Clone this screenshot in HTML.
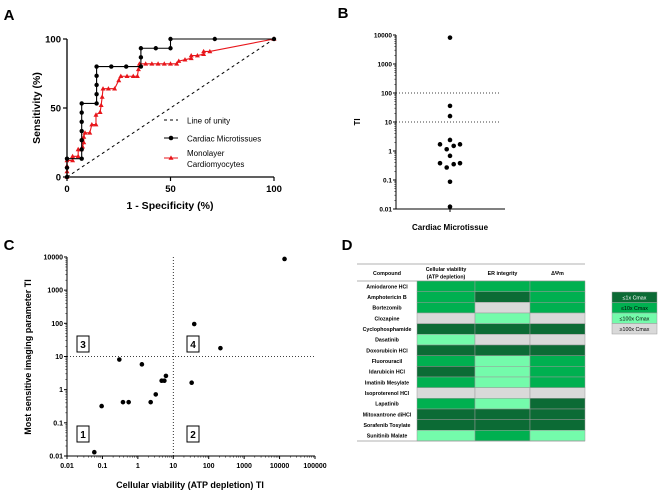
<!DOCTYPE html>
<html><head><meta charset="utf-8"><style>
body{margin:0;background:#fff;width:660px;height:496px;overflow:hidden}
svg{display:block;font-family:"Liberation Sans",Arial,sans-serif}
</style></head><body>
<svg id="fig" width="660" height="496" viewBox="0 0 660 496">
<g id="pA"></g>
<g id="pB"></g>
<g id="pC"></g>
<g id="pD"></g>
</svg>
<script>
// ---- Panel A data ----
const cardFpr=[0,0,0,7.1,7.1,7.1,7.1,7.1,7.1,7.1,14.3,14.3,14.3,14.3,14.3,21.4,28.6,35.7,35.7,35.7,42.9,50,50,71.4,100];
const cardTpr=[0,6.7,13.3,13.3,20,26.7,33.3,40,46.7,53.3,53.3,60,66.7,73.3,80,80,80,80,86.7,93.3,93.3,93.3,100,100,100];
const monoFpr=[0,0,0,0,2.7,2.7,5.4,5.4,6.8,7.5,8.1,8.1,8.7,11,12,14,14,16,16.5,17,17.4,20,23,25,26,29,32,34,34.5,35,38,41,44,47,50,53,54,57,60,60,63,66,66,69,100];
const monoTpr=[0,4,8,12,12,15,15,20,20,22,25,29,32,32,38,38,45,47,52,58,64,64,64,70,73,73,73,73,78,82,82,82,82,82,82,82,84,85,86,88,88,89,91,91,100];
const aTicks=[0,50,100];
// ---- Panel B data ----
const bValues=[8100,36,16,2.4,1.7,1.7,1.5,1.15,0.68,0.38,0.38,0.35,0.27,0.087,0.012];
const bJitter=[0,0,0,0,-10,10,3.7,-3.3,0,-10,10,3.7,-3.3,0,0];
const logTicks=[0.01,0.1,1,10,100,1000,10000];
const logTickLabels=["0.01","0.1","1","10","100","1000","10000"];
// ---- Panel C data ----
const cX=[13800,39,214,0.3,1.3,6.2,4.7,5.6,33,3.2,2.3,0.38,0.55,0.095,0.059];
const cY=[8700,95,17.8,8.1,5.8,2.6,1.86,1.86,1.62,0.72,0.42,0.42,0.42,0.32,0.013];
const cXTicks=[0.01,0.1,1,10,100,1000,10000,100000];
const cXTickLabels=["0.01","0.1","1","10","100","1000","10000","100000"];
// ---- Panel D data ----
const compounds=["Amiodarone HCl","Amphotericin B","Bortezomib","Clozapine","Cyclophosphamide","Dasatinib","Doxorubicin HCl","Fluorouracil","Idarubicin HCl","Imatinib Mesylate","Isoproterenol HCl","Lapatinib","Mitoxantrone diHCl","Sorafenib Tosylate","Sunitinib Malate"];
const viability=[1,1,1,3,0,2,0,1,0,1,3,1,0,0,2];
const erIntegrity=[1,0,3,2,0,3,0,2,2,2,3,2,0,0,1];
const mmp=[1,1,1,3,0,3,0,1,1,1,3,0,0,0,2];
const legendLabels=["≤1x Cmax","≤10x Cmax","≤100x Cmax","≥100x Cmax"];
const catColors=["#0c6b35","#00b050","#74fbab","#d9d9d9"];

const NS="http://www.w3.org/2000/svg";
function mk(parent,tag,attrs,text){const e=document.createElementNS(NS,tag);for(const k in attrs)e.setAttribute(k,attrs[k]);if(text!==undefined)e.textContent=text;parent.appendChild(e);return e;}
function label(p,x,y,t,size,anchor,weight){return mk(p,'text',{x:x,y:y,'font-size':size,'text-anchor':anchor||'middle','font-weight':weight||'bold',fill:'#000'},t);}

// ===== Panel A =====
(function(){
const g=document.getElementById('pA');
const X=v=>67+v*2.07, Y=v=>177-v*1.38;
let t=label(g,9,20,'A',15,'middle');
let d=mk(g,'line',{x1:X(0),y1:Y(0),x2:X(100),y2:Y(100),stroke:'#000','stroke-width':1,'stroke-dasharray':'3,3'});

mk(g,'line',{x1:67,y1:39,x2:67,y2:177,stroke:'#000','stroke-width':1.3});
mk(g,'line',{x1:67,y1:177,x2:274,y2:177,stroke:'#000','stroke-width':1.3});
aTicks.forEach(v=>{
 mk(g,'line',{x1:63,y1:Y(v),x2:67,y2:Y(v),stroke:'#000','stroke-width':1.2});
 let l=label(g,61,Y(v)+3.5,String(v),9.5,'end');
 mk(g,'line',{x1:X(v),y1:177,x2:X(v),y2:181,stroke:'#000','stroke-width':1.2});
 let m=label(g,X(v),192,String(v),9.5);
});
let xt=label(g,170,209,'1 - Specificity (%)',10.5);
let yt=label(g,0,0,'Sensitivity (%)',10.5);yt.setAttribute('transform','translate(40,108) rotate(-90)');
// mono
let pm=monoFpr.map((v,i)=>(i?'L':'M')+X(v)+','+Y(monoTpr[i])).join('');
let ml=mk(g,'path',{d:pm,fill:'none',stroke:'#e8161b','stroke-width':1.1});

monoFpr.forEach((v,i)=>{const x=X(v),y=Y(monoTpr[i]);
 let p=mk(g,'path',{d:`M${x},${y-2.6}L${x+2.5},${y+1.8}L${x-2.5},${y+1.8}Z`,fill:'#e8161b'});
 });
let pc=cardFpr.map((v,i)=>(i?'L':'M')+X(v)+','+Y(cardTpr[i])).join('');
let cl=mk(g,'path',{d:pc,fill:'none',stroke:'#000','stroke-width':1.1});

cardFpr.forEach((v,i)=>{
 let c=mk(g,'circle',{cx:X(v),cy:Y(cardTpr[i]),r:2.2,fill:'#000'});
 });
// legend
const lg=mk(g,'g',{});
mk(lg,'line',{x1:164,y1:120,x2:178,y2:120,stroke:'#000','stroke-dasharray':'3,3'});
label(lg,187,123.5,'Line of unity',8,'start','normal');
mk(lg,'line',{x1:164,y1:138,x2:178,y2:138,stroke:'#000'});mk(lg,'circle',{cx:171,cy:138,r:2.3,fill:'#000'});
label(lg,187,141.5,'Cardiac Microtissues',8,'start','normal');
mk(lg,'line',{x1:164,y1:158,x2:178,y2:158,stroke:'#e8161b'});mk(lg,'path',{d:'M171,155.4L173.5,159.8L168.5,159.8Z',fill:'#e8161b'});
label(lg,187,156,'Monolayer',8,'start','normal');label(lg,187,167,'Cardiomyocytes',8,'start','normal');
})();

// ===== Panel B =====
(function(){
const g=document.getElementById('pB');
const Y=v=>209-(Math.log10(v)+2)*29, cx=450;
let t=label(g,343,18,'B',15);
mk(g,'line',{x1:396,y1:35,x2:396,y2:209,stroke:'#000','stroke-width':1});
mk(g,'line',{x1:396,y1:209,x2:505,y2:209,stroke:'#000','stroke-width':1});
mk(g,'line',{x1:cx,y1:209,x2:cx,y2:212,stroke:'#000'});
logTicks.forEach((v,i)=>{
 mk(g,'line',{x1:393,y1:Y(v),x2:396,y2:Y(v),stroke:'#000'});
 if(i<logTicks.length-1)for(let k=2;k<10;k++)mk(g,'line',{x1:394.3,y1:Y(v*k),x2:396,y2:Y(v*k),stroke:'#000','stroke-width':0.5});
 let l=label(g,392,Y(v)+2.5,logTickLabels[i],6.5,'end');
});
[10,100].forEach(v=>{let r=mk(g,'line',{x1:396,y1:Y(v),x2:500,y2:Y(v),stroke:'#000','stroke-width':0.8,'stroke-dasharray':'1,2'});});
let yt=label(g,0,0,'TI',8);yt.setAttribute('transform','translate(360,122) rotate(-90)');
let xt=label(g,cx,230,'Cardiac Microtissue',8);
bValues.forEach((v,i)=>{let c=mk(g,'circle',{cx:cx+bJitter[i],cy:Y(v),r:2.3,fill:'#000'});});
})();

// ===== Panel C =====
(function(){
const g=document.getElementById('pC');
const X=v=>67+(Math.log10(v)+2)*35.43, Y=v=>456-(Math.log10(v)+2)*33.17;
let t=label(g,9,250,'C',15);
mk(g,'line',{x1:67,y1:257,x2:67,y2:456,stroke:'#000'});
mk(g,'line',{x1:67,y1:456,x2:315,y2:456,stroke:'#000'});
logTicks.forEach((v,i)=>{
 mk(g,'line',{x1:64,y1:Y(v),x2:67,y2:Y(v),stroke:'#000'});
 if(i<logTicks.length-1)for(let k=2;k<10;k++)mk(g,'line',{x1:65.3,y1:Y(v*k),x2:67,y2:Y(v*k),stroke:'#000','stroke-width':0.5});
 let l=label(g,63,Y(v)+2.5,logTickLabels[i],7,'end');
});
cXTicks.forEach((v,i)=>{
 mk(g,'line',{x1:X(v),y1:456,x2:X(v),y2:459,stroke:'#000'});
 if(i<cXTicks.length-1)for(let k=2;k<10;k++)mk(g,'line',{x1:X(v*k),y1:456,x2:X(v*k),y2:457.7,stroke:'#000','stroke-width':0.5});
 let l=label(g,X(v),468,cXTickLabels[i],7);
});
let v1=mk(g,'line',{x1:X(10),y1:257,x2:X(10),y2:456,stroke:'#000','stroke-width':0.8,'stroke-dasharray':'1,2'});
let h1=mk(g,'line',{x1:67,y1:Y(10),x2:315,y2:Y(10),stroke:'#000','stroke-width':0.8,'stroke-dasharray':'1,2'});
[['3',77,336],['4',187,336],['1',77,426],['2',187,426]].forEach(q=>{
 const b=mk(g,'g',{});
 mk(b,'rect',{x:q[1],y:q[2],width:12,height:16,fill:'#fff',stroke:'#000','stroke-width':1});
 label(b,q[1]+6,q[2]+12,q[0],10);
});
let xt=label(g,190,488,'Cellular viability (ATP depletion) TI',9);
let yt=label(g,0,0,'Most sensitive imaging parameter TI',9);yt.setAttribute('transform','translate(31,357) rotate(-90)');
cX.forEach((v,i)=>{let c=mk(g,'circle',{cx:X(v),cy:Y(cY[i]),r:2.3,fill:'#000'});});
})();

// ===== Panel D =====
(function(){
const g=document.getElementById('pD');
let t=label(g,347,250,'D',15);
const cols=[357,417,475,530,585], top=264, hb=281, rh=(441-281)/15;
mk(g,'line',{x1:357,y1:top,x2:585,y2:top,stroke:'#999','stroke-width':0.8});
const hdr=[['Compound'],['Cellular viability','(ATP depletion)'],['ER integrity'],['ΔΨm']];
hdr.forEach((h,i)=>{const cx=(cols[i]+cols[i+1])/2;
 if(h.length===1){let l=label(g,cx,275,h[0],5.3);}
 else{let l=label(g,cx,271,h[0],5.3);label(g,cx,278.5,h[1],5.3);}
});
mk(g,'line',{x1:357,y1:hb,x2:585,y2:hb,stroke:'#999','stroke-width':0.8});
const series=[viability,erIntegrity,mmp];
compounds.forEach((c,r)=>{
 const y=hb+r*rh;
 let l=label(g,387,y+rh/2+2,c,5.3);
 series.forEach((s,j)=>{
  let cell=mk(g,'rect',{x:cols[j+1],y:y,width:cols[j+2]-cols[j+1],height:rh,fill:catColors[s[r]],stroke:'#9a9a9a','stroke-width':0.5});
  
 });
});
mk(g,'line',{x1:357,y1:441,x2:585,y2:441,stroke:'#999','stroke-width':0.8});
const lg=mk(g,'g',{});
legendLabels.forEach((s,i)=>{
 const y=292+i*10.5;
 mk(lg,'rect',{x:612,y:y,width:45,height:10.5,fill:catColors[i],stroke:'#9a9a9a','stroke-width':0.5});
 label(lg,634.5,y+7.3,s,5.3,'middle','normal').setAttribute('fill',i===0?'#fff':'#000');
});
})();
</script>
</body></html>
